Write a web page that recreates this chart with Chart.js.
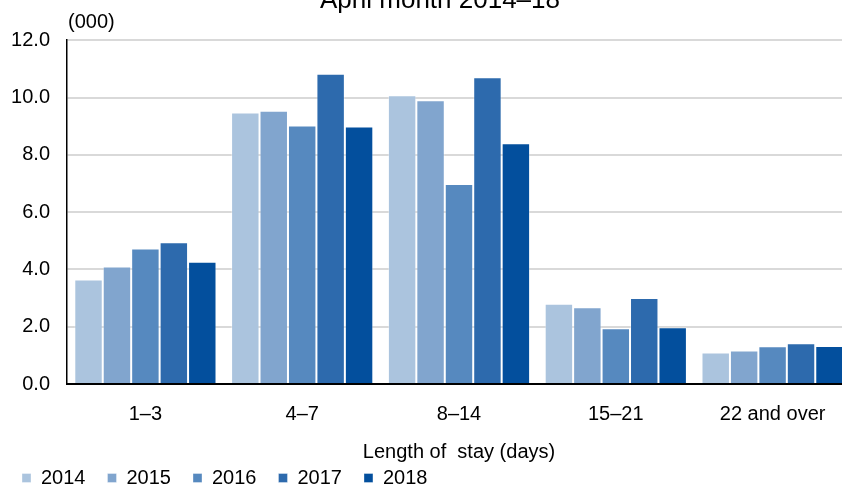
<!DOCTYPE html>
<html>
<head>
<meta charset="utf-8">
<script src="https://cdn.jsdelivr.net/npm/chart.js@4"></script>
<style>
  html, body { margin: 0; padding: 0; background: #fff; overflow: hidden; width: 842px; height: 488px; }
  #wrap { width: 880px; height: 498px; }
</style>
</head>
<body>
<div id="wrap"><canvas id="c" width="880" height="498"></canvas></div>
<script>
const chartTitle = 'April month 2014–18';
const unitLabel = '(000)';
const axisTitle = 'Length of  stay (days)';
const categories = ['1–3', '4–7', '8–14', '15–21', '22 and over'];
const years = ['2014', '2015', '2016', '2017', '2018'];
const v2014 = [3.65, 9.48, 10.08, 2.80, 1.10];
const v2015 = [4.10, 9.54, 9.90, 2.68, 1.17];
const v2016 = [4.73, 9.02, 6.98, 1.95, 1.32];
const v2017 = [4.95, 10.83, 10.71, 3.00, 1.42];
const v2018 = [4.27, 8.99, 8.40, 1.98, 1.33];
const yTicks = [0, 2, 4, 6, 8, 10, 12];

const seriesValues = [v2014, v2015, v2016, v2017, v2018];
const colors = ['#ABC4DE', '#81A5CE', '#5689BF', '#2D6AAD', '#034F9D'];
const FONT = '"Liberation Sans", Arial, sans-serif';

const unitPlugin = {
  id: 'unitLabel',
  afterLayout(chart) {
    const t = chart.titleBlock;
    if (t) { t.left += 14.5; t.right += 14.5; }
  },
  afterDraw(chart) {
    const ctx = chart.ctx;
    ctx.save();
    ctx.font = '20px ' + FONT;
    ctx.fillStyle = '#000';
    ctx.textAlign = 'left';
    ctx.textBaseline = 'middle';
    ctx.fillText(unitLabel, chart.chartArea.left + 1, chart.chartArea.top - 18);
    ctx.restore();
  }
};

new Chart(document.getElementById('c'), {
  type: 'bar',
  data: {
    labels: categories,
    datasets: years.map((y, i) => ({
      label: y,
      data: seriesValues[i],
      backgroundColor: colors[i],
      borderColor: 'rgba(255,255,255,0.35)',
      borderWidth: 1,
      categoryPercentage: 0.907,
      barPercentage: 1.0
    }))
  },
  options: {
    responsive: false,
    animation: false,
    devicePixelRatio: 1,
    layout: { padding: { left: 0, right: 29, top: 0, bottom: 0 } },
    plugins: {
      title: {
        display: true,
        text: chartTitle,
        color: '#000',
        font: { family: FONT, size: 26, weight: 'normal' },
        padding: { top: -15, bottom: 24 }
      },
      legend: {
        position: 'bottom',
        align: 'start',
        labels: {
          color: '#000',
          font: { family: FONT, size: 20 },
          boxWidth: 9,
          boxHeight: 9,
          padding: 22
        }
      },
      tooltip: { enabled: false }
    },
    scales: {
      x: {
        grid: { display: false, drawTicks: false },
        border: { display: true, color: '#000', width: 2 },
        ticks: { color: '#000', font: { family: FONT, size: 20 }, padding: 18 },
        title: {
          display: true,
          text: axisTitle,
          color: '#000',
          font: { family: FONT, size: 20 },
          padding: { top: -4, bottom: -18 }
        }
      },
      y: {
        min: 0,
        max: 12,
        afterBuildTicks: s => { s.ticks = yTicks.map(v => ({ value: v })); },
        afterFit: s => { s.width = 67; },
        grid: { color: '#D9D9D9', lineWidth: 2, drawTicks: false },
        border: { display: true, color: '#000', width: 1.5 },
        ticks: {
          color: '#000',
          font: { family: FONT, size: 20 },
          padding: 17,
          callback: v => Number(v).toFixed(1)
        }
      }
    }
  },
  plugins: [unitPlugin]
});
</script>
</body>
</html>
